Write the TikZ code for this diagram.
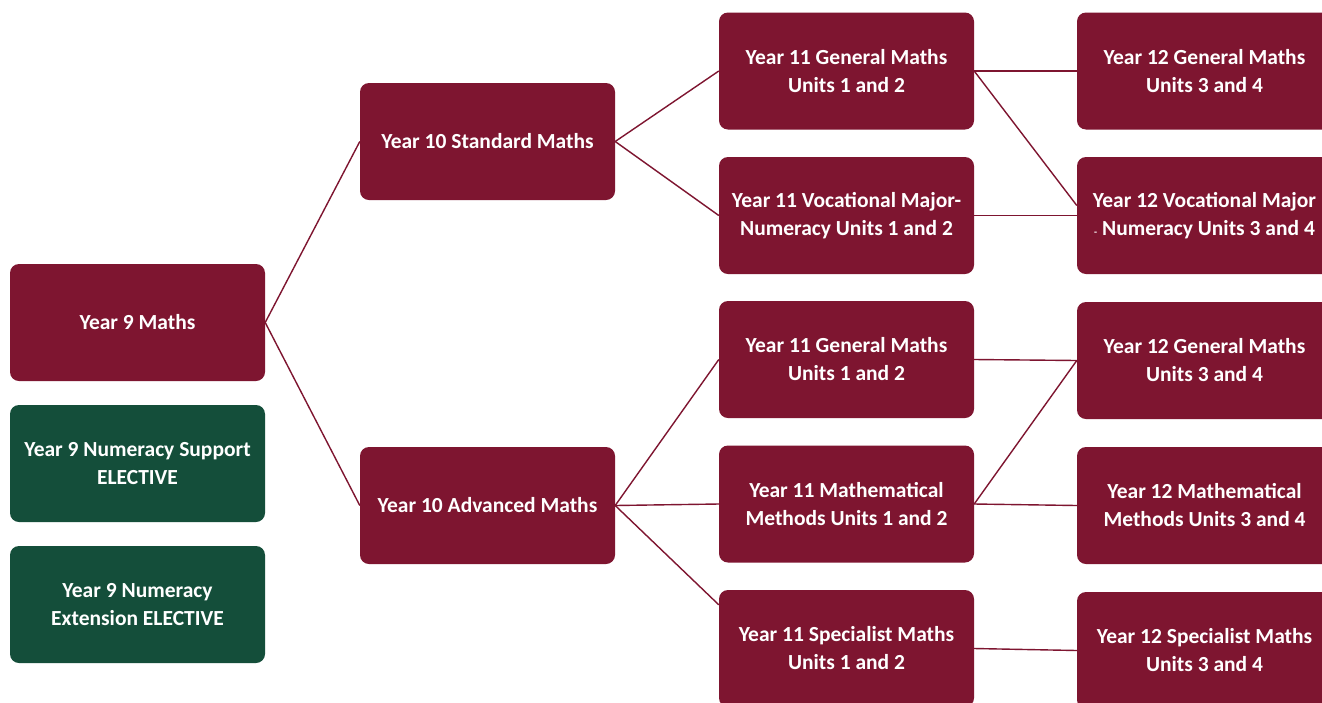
\documentclass[tikz,border=0pt]{standalone}
\usepackage{fontspec}
\setmainfont{Carlito}
\definecolor{maroon}{HTML}{7E1530}
\definecolor{dkgreen}{HTML}{144E3A}
\begin{document}
\begin{tikzpicture}[x=1pt,y=-1pt,
  box/.style={draw=none,fill=maroon,rounded corners=9pt,minimum width=255pt,minimum height=117pt,inner sep=0pt,
    text=white,align=center,font=\fontsize{21.5}{28}\selectfont\bfseries},
  gbox/.style={box,fill=dkgreen},
  link/.style={draw=maroon,line width=1.4pt}]
\useasboundingbox (0,0) rectangle (1322,702);
\clip (0,0) rectangle (1322,702);
\fill[white] (0,0) rectangle (1322,702);
% column 1
\node[box]  (y9) at (137.5,322.5) {Year 9 Maths};
\node[gbox] (g1) at (137.5,463.5) {Year 9 Numeracy Support\\ELECTIVE};
\node[gbox] (g2) at (137.5,604.5) {Year 9 Numeracy\\Extension ELECTIVE};
% column 2
\node[box] (s10) at (487.5,141.5) {Year 10 Standard Maths};
\node[box] (a10) at (487.5,505.5) {Year 10 Advanced Maths};
% column 3
\node[box] (gen11a) at (846.5,71)    {Year 11 General Maths\\Units 1 and 2};
\node[box] (voc11)  at (846.5,215.5) {Year 11 Vocational Major-\\Numeracy Units 1 and 2};
\node[box] (gen11b) at (846.5,359.5) {Year 11 General Maths\\Units 1 and 2};
\node[box] (mm11)   at (846.5,504)   {Year 11 Mathematical\\Methods Units 1 and 2};
\node[box] (sp11)   at (846.5,648.5) {Year 11 Specialist Maths\\Units 1 and 2};
% column 4
\node[box] (gen12a) at (1204.5,71)    {Year 12 General Maths\\Units 3 and 4};
\node[box] (voc12)  at (1204.5,215.5) {Year 12 Vocational Major\\{\fontsize{10}{10}\selectfont -} Numeracy Units 3 and 4};
\node[box] (gen12b) at (1204.5,360.5) {Year 12 General Maths\\Units 3 and 4};
\node[box] (mm12)   at (1204.5,505.5) {Year 12 Mathematical\\Methods Units 3 and 4};
\node[box] (sp12)   at (1204.5,650.5) {Year 12 Specialist Maths\\Units 3 and 4};
% connectors
\draw[link] (y9.east) -- (s10.west);
\draw[link] (y9.east) -- (a10.west);
\draw[link] (s10.east) -- (gen11a.west);
\draw[link] (s10.east) -- (voc11.west);
\draw[link] (a10.east) -- (gen11b.west);
\draw[link] (a10.east) -- (mm11.west);
\draw[link] (a10.east) -- ([yshift=-15pt]sp11.north west);
\draw[link] (gen11a.east) -- (gen12a.west);
\draw[link] (gen11a.east) -- ([yshift=10pt]voc12.west);
\draw[link] (voc11.east) -- (voc12.west);
\draw[link] (gen11b.east) -- (gen12b.west);
\draw[link] (mm11.east) -- (gen12b.west);
\draw[link] (mm11.east) -- (mm12.west);
\draw[link] (sp11.east) -- (sp12.west);
\end{tikzpicture}
\end{document}
